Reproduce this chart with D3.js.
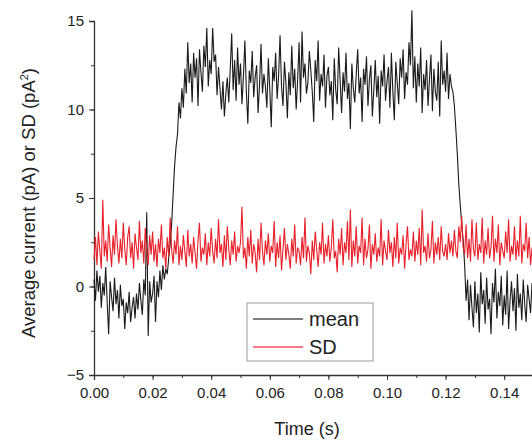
<!DOCTYPE html>
<html>
<head>
<meta charset="utf-8">
<script src="https://cdn.jsdelivr.net/npm/d3@7"></script>
<style>
  body { margin: 0; background: #fff; }
  svg text { font-family: "Liberation Sans", Arial, sans-serif; fill: #222; }
</style>
</head>
<body>
<div id="chart"></div>
<script>
// sampling step of both traces (s)
var step = 0.0005;

// mean current (pA), one row per 10 ms
var meanValues = [
  0.4, -0.8, 0.9, -0.3, 0.6, -1.2, 0.2, -0.5, 1.1, -0.9, -2.7, 0.3, -0.6, -1.4, 0.5, -1.0, -0.2, -1.8, 0.1, -1.1,
  -0.7, -2.4, -0.9, -1.5, -0.3, -2.0, -1.2, -0.6, -1.8, -0.4, -1.3, 0.2, -0.8, -1.6, 0.4, -0.5, 4.2, -2.8, 0.3, -0.9,
  -0.4, 0.6, -2.0, 0.3, -0.6, 0.9, -0.2, 1.2, 0.4, 1.0, 0.7, 1.6, 2.4, 3.5, 5.2, 6.8, 7.9, 8.6, 10.4, 9.5,
  11.2, 10.1, 12.3, 10.9, 13.8, 11.5, 12.6, 10.4, 13.2, 11.8, 12.9, 10.2, 13.4, 12.1, 11.0, 13.6, 12.4, 14.6, 11.3, 12.8,
  12.0, 14.6, 12.7, 13.1, 10.8, 12.4, 11.2, 10.0, 11.6, 9.6, 10.9, 11.8, 10.4, 12.3, 14.3, 11.1, 12.8, 10.5, 13.5, 11.4,
  12.6, 10.3, 11.9, 13.9, 11.0, 9.2, 12.2, 11.5, 13.3, 10.7, 11.8, 12.5, 9.8, 11.4, 13.7, 10.9, 12.0, 11.3, 10.1, 12.9,
  11.1, 9.0, 12.4, 11.6, 13.2, 10.6, 11.9, 14.2, 11.3, 10.2, 12.7, 11.5, 9.5, 12.1, 10.8, 13.6, 11.2, 12.3, 10.0, 11.7,
  13.8, 10.4, 14.4, 11.8, 12.6, 10.9, 11.5, 13.3, 12.2, 11.0, 9.3, 12.8, 11.6, 13.9, 10.5, 12.0, 11.3, 13.1, 10.1, 11.9,
  12.4, 10.8, 11.6, 9.4, 12.9, 11.1, 10.3, 13.5, 11.7, 9.8, 12.1, 11.0, 13.2, 10.6, 11.5, 8.9, 12.6, 11.2, 10.4, 12.0,
  13.4, 10.9, 11.8, 9.3, 12.3, 11.4, 13.0, 10.2, 11.7, 12.5, 9.6, 11.1, 12.8, 10.7, 11.9, 9.2, 12.2, 11.3, 13.1, 10.5,
  11.6, 12.4, 10.1, 13.2, 11.0, 9.4, 12.7, 11.5, 10.3, 12.9, 11.8, 13.4, 10.6, 12.1, 11.4, 13.8, 12.5, 15.6, 11.2, 13.0,
  10.4, 12.6, 11.3, 13.5, 9.8, 12.0, 11.1, 12.8, 10.2, 11.7, 13.1, 9.9, 12.3, 11.0, 10.5, 12.7, 9.6, 13.9, 11.4, 12.2,
  11.0, 13.2, 10.6, 12.0, 11.3, 11.0, 10.2, 8.9, 7.5, 5.8, 4.6, 3.5, 2.6, 1.2, -0.8, 0.4, -1.9, 0.1, -1.2, -2.3,
  0.3, -1.5, -0.4, -2.6, 0.8, -1.0, -0.2, -2.1, 0.5, -1.3, -0.7, -2.7, 0.2, -0.9, 1.0, -1.8, -0.3, -1.1, 0.6, -2.2,
  -0.5, -1.6, 0.9, -2.4, -0.8, 0.3, -1.4, -0.1, -2.5, 0.7, -1.2, -0.4, -1.9, 0.4, -1.0, -2.0, 0.1, -0.7, -1.5, 0.2
];

// SD trace, same sampling
var sdValues = [
  1.5, 2.8, 1.2, 3.1, 2.0, 1.0, 4.9, 1.7, 2.6, 1.4, 3.5, 2.2, 1.1, 2.9, 1.8, 3.8, 2.3, 1.3, 2.7, 1.6,
  3.6, 2.1, 1.2, 2.8, 3.4, 1.6, 2.5, 1.0, 3.0, 2.2, 1.5, 3.7, 1.9, 2.6, 1.3, 3.3, 2.0, 1.2, 2.9, 1.8,
  3.1, 1.4, 2.4, 1.1, 2.7, 1.9, 3.5, 1.6, 2.2, 1.0, 2.8, 1.7, 3.9, 2.1, 1.3, 2.6, 1.8, 3.4, 1.2, 2.3,
  1.5, 2.9, 2.0, 1.1, 3.2, 1.7, 2.4, 1.3, 2.8, 1.9, 1.0, 2.6, 3.6, 1.4, 2.2, 1.8, 3.0, 1.2, 2.5, 1.7,
  3.3, 2.0, 1.3, 2.7, 1.6, 3.8, 1.9, 2.4, 1.1, 2.9, 1.5, 3.4, 2.1, 1.2, 2.6, 1.8, 3.1, 1.4, 2.3, 1.9,
  2.5, 4.5, 1.6, 2.2, 1.0, 2.8, 1.7, 3.2, 1.3, 2.4, 1.9, 0.8, 2.7, 1.5, 3.6, 2.0, 1.2, 2.6, 1.8, 3.0,
  1.4, 2.3, 1.9, 3.7, 1.1, 2.5, 1.6, 2.9, 0.9, 2.1, 3.3, 1.5, 2.4, 1.8, 1.0, 2.7, 1.7, 3.5, 1.3, 2.2,
  2.0, 1.2, 2.8, 1.6, 3.9, 1.4, 2.3, 1.9, 0.7, 2.6, 1.5, 3.1, 2.1, 1.1, 2.5, 1.8, 3.6, 1.3, 2.4, 1.7,
  2.9, 1.4, 2.2, 3.8, 1.6, 2.0, 0.8, 2.7, 1.8, 3.3, 1.2, 2.5, 1.9, 3.7, 1.5, 4.35, 1.1, 2.6, 1.7, 3.4,
  1.3, 2.3, 1.9, 3.9, 1.2, 2.7, 1.6, 2.1, 3.5, 1.0, 2.4, 1.8, 3.0, 1.4, 2.2, 1.7, 3.8, 1.2, 2.6, 2.0,
  1.5, 3.2, 1.9, 2.5, 1.1, 2.8, 1.6, 3.6, 1.3, 2.2, 1.8, 2.9, 1.0, 2.4, 3.4, 1.5, 2.1, 1.7, 3.1, 1.4,
  2.6, 1.8, 3.3, 1.2, 4.35, 1.9, 2.3, 1.4, 3.0, 1.6, 2.1, 3.7, 1.3, 2.5, 1.8, 2.8, 1.5, 3.4, 2.0, 1.7,
  2.4, 1.5, 3.0, 1.9, 2.6, 1.7, 3.2, 2.0, 1.6, 3.4, 2.5, 4.0, 2.2, 1.8, 3.5, 1.6, 2.7, 1.4, 3.8, 2.1,
  1.7, 3.6, 1.5, 2.4, 1.9, 3.9, 1.3, 2.6, 1.8, 3.3, 1.6, 2.2, 4.0, 1.4, 2.7, 1.9, 3.5, 1.2, 2.5, 2.0,
  1.6, 3.1, 1.9, 3.8, 1.4, 2.3, 1.8, 3.4, 1.5, 2.6, 1.7, 4.0, 1.3, 2.4, 2.0, 3.6, 1.6, 2.8, 1.2, 2.2
];

// tick labels
var xTicks = [0, 0.02, 0.04, 0.06, 0.08, 0.10, 0.12, 0.14];
var yTicks = [-5, 0, 5, 10, 15];
var seriesNames = ["mean", "SD"];
var seriesColors = ["#1a1a1a", "#e8202a"];

var width = 532, height = 441;

var svg = d3.select("#chart").append("svg")
    .attr("width", width)
    .attr("height", height);

var x = d3.scaleLinear().domain([0, 0.15]).range([94, 533.5]);
var y = d3.scaleLinear().domain([-5, 15]).range([375, 21]);

// x axis with minor ticks
svg.append("g")
    .attr("transform", "translate(0," + y(-5) + ")")
    .call(d3.axisBottom(x).tickValues(d3.range(0, 0.151, 0.01)).tickSize(3).tickFormat(""))
    .call(g => g.select(".domain").remove())
    .selectAll("line").attr("stroke", "#333");
var gx = svg.append("g")
    .attr("transform", "translate(0," + y(-5) + ")")
    .call(d3.axisBottom(x).tickValues(xTicks).tickSize(5).tickPadding(7).tickFormat(d3.format(".2f")));
gx.select(".domain").attr("stroke", "#333").attr("stroke-width", 1.3);
gx.selectAll("line").attr("stroke", "#333");
gx.selectAll("text").style("font-size", "15px").attr("fill", "#222");

// y axis with minor ticks
svg.append("g")
    .attr("transform", "translate(" + x(0) + ",0)")
    .call(d3.axisLeft(y).tickValues(d3.range(-5, 15.1, 2.5)).tickSize(3).tickFormat(""))
    .call(g => g.select(".domain").remove())
    .selectAll("line").attr("stroke", "#333");
var gy = svg.append("g")
    .attr("transform", "translate(" + x(0) + ",0)")
    .call(d3.axisLeft(y).tickValues(yTicks).tickSize(5).tickPadding(5));
gy.select(".domain").attr("stroke", "#333").attr("stroke-width", 1.3);
gy.selectAll("line").attr("stroke", "#333");
gy.selectAll("text").style("font-size", "15px").attr("fill", "#222");

// axis titles
svg.append("text")
    .attr("x", 307).attr("y", 435)
    .attr("text-anchor", "middle")
    .style("font-size", "18px")
    .text("Time (s)");

var yl = svg.append("text")
    .attr("transform", "translate(35,203) rotate(-90)")
    .attr("text-anchor", "middle")
    .style("font-size", "18.5px");
yl.append("tspan").text("Average current (pA) or SD (pA");
yl.append("tspan").attr("dy", -7).style("font-size", "11px").text("2");
yl.append("tspan").attr("dy", 7).text(")");

// traces
var line = d3.line()
    .x((d, i) => x(i * step))
    .y(d => y(d));

var plot = svg.append("g");
plot.append("path")
    .datum(meanValues)
    .attr("d", line)
    .attr("fill", "none")
    .attr("stroke", seriesColors[0])
    .attr("stroke-width", 1.1);
plot.append("path")
    .datum(sdValues)
    .attr("d", line)
    .attr("fill", "none")
    .attr("stroke", seriesColors[1])
    .attr("stroke-width", 1.1);

// legend
var legend = svg.append("g").attr("transform", "translate(247,303)");
legend.append("rect")
    .attr("width", 126).attr("height", 58)
    .attr("fill", "#fff")
    .attr("stroke", "#999");
seriesNames.forEach(function (name, i) {
    var ly = 16 + i * 28;
    legend.append("line")
        .attr("x1", 6).attr("x2", 56)
        .attr("y1", ly).attr("y2", ly)
        .attr("stroke", i === 0 ? "#555" : "#f05060")
        .attr("stroke-width", 1.5);
    legend.append("text")
        .attr("x", 62).attr("y", ly + 7)
        .style("font-size", "20px")
        .text(name);
});
</script>
</body>
</html>
